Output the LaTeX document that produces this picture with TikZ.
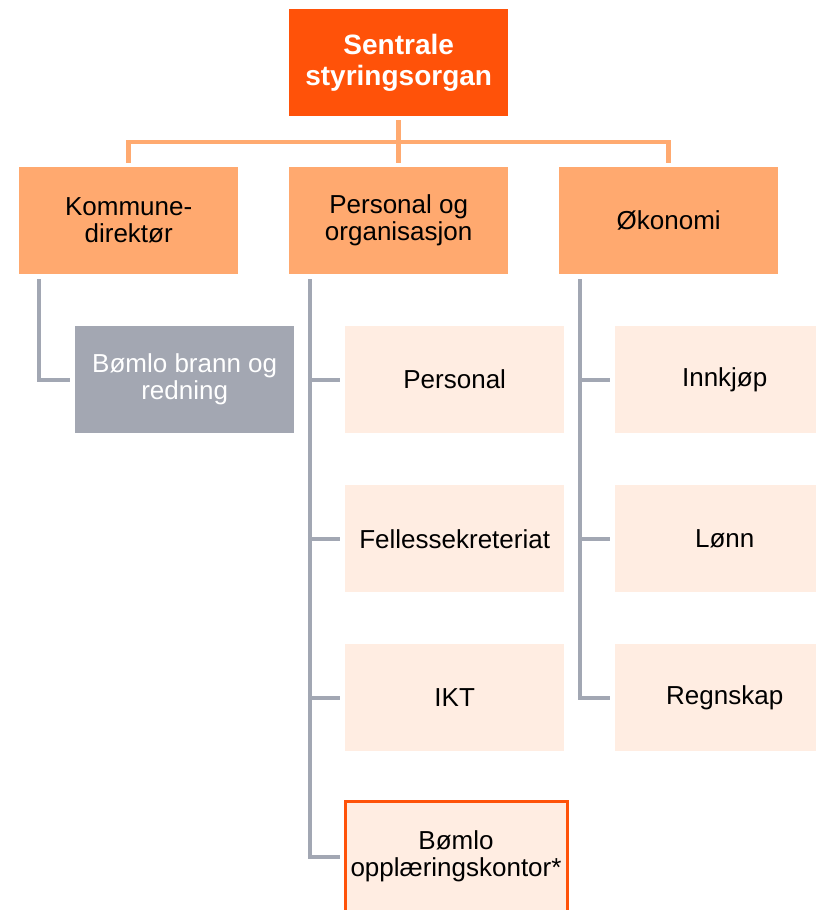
\documentclass[tikz,border=0pt]{standalone}
\usepackage{fontspec}
\setmainfont{Liberation Sans}
\definecolor{topc}{HTML}{FF5209}
\definecolor{midc}{HTML}{FFA96F}
\definecolor{linec}{HTML}{FFAA70}
\definecolor{grayc}{HTML}{A3A7B2}
\definecolor{glinec}{HTML}{A2A7B3}
\definecolor{lightc}{HTML}{FFEDE2}
\tikzset{
  orgbox/.style={anchor=north west, minimum width=219pt, minimum height=107pt, inner sep=0pt, align=center, font=\fontsize{26}{27}\selectfont},
  topbox/.style={orgbox, fill=topc, text=white, font=\bfseries\fontsize{28}{31}\selectfont},
  midbox/.style={orgbox, fill=midc, text=black},
  graybox/.style={orgbox, fill=grayc, text=white},
  lightbox/.style={orgbox, fill=lightc, text=black},
  hibox/.style={lightbox, draw=topc, line width=3pt, minimum width=222pt, minimum height=111pt},
  oline/.style={draw=linec, line width=4.5pt},
  gline/.style={draw=glinec, line width=4pt},
}
\begin{document}
\begin{tikzpicture}[x=1pt,y=-1pt]
\useasboundingbox (0,0) rectangle (816,910);
\clip (0,0) rectangle (816,910);
% boxes
\node[topbox] (top) at (289,9) {Sentrale\\styringsorgan};
\node[midbox] (kd) at (19,167) {Kommune-\\direktør};
\node[midbox] (po) at (289,167) {Personal og\\organisasjon};
\node[midbox] (ok) at (559,167) {Økonomi};
\node[graybox] (bbr) at (75,326) {Bømlo brann og\\redning};
\node[lightbox] (pers) at (345,326) {Personal};
\node[lightbox] (fel) at (345,485) {Fellessekreteriat};
\node[lightbox] (ikt) at (345,644) {IKT};
\node[hibox] (opl) at (343.5,799.5) {Bømlo\\opplæringskontor*};
\node[lightbox] (inn) at (615,326) {Innkjøp};
\node[lightbox] (lonn) at (615,485) {Lønn};
\node[lightbox] (reg) at (615,644) {Regnskap};
% top connectors
\coordinate (bus) at (0,142);
\draw[oline] ([yshift=-4pt]top.south) -- ([yshift=4pt]po.north);
\draw[oline] ([yshift=4pt]kd.north) -- (kd.north |- bus) -- (ok.north |- bus) -- ([yshift=4pt]ok.north);
% kommunedirektor branch
\draw[gline] ([xshift=20pt,yshift=-5pt]kd.south west) |- ([xshift=-5pt]bbr.west);
% personal branch
\coordinate (pv) at ([xshift=21pt,yshift=-5pt]po.south west);
\draw[gline] (pv) |- ([xshift=-3.5pt]opl.west);
\draw[gline] (pv |- pers.west) -- ([xshift=-5pt]pers.west);
\draw[gline] (pv |- fel.west) -- ([xshift=-5pt]fel.west);
\draw[gline] (pv |- ikt.west) -- ([xshift=-5pt]ikt.west);
% okonomi branch
\coordinate (ov) at ([xshift=21pt,yshift=-5pt]ok.south west);
\draw[gline] (ov) |- ([xshift=-5pt]reg.west);
\draw[gline] (ov |- inn.west) -- ([xshift=-5pt]inn.west);
\draw[gline] (ov |- lonn.west) -- ([xshift=-5pt]lonn.west);
\end{tikzpicture}
\end{document}
